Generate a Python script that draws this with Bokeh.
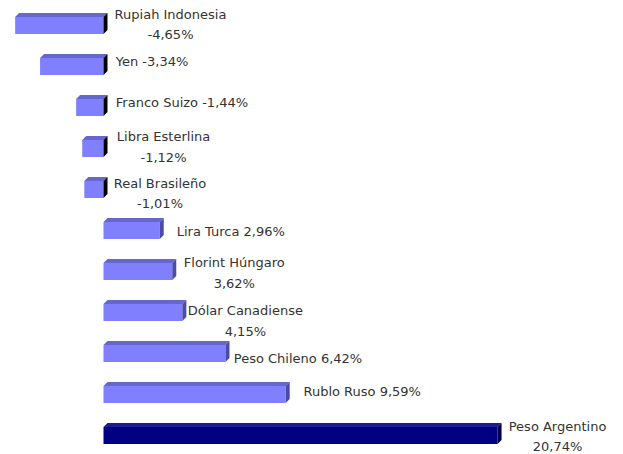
from bokeh.plotting import figure
from bokeh.models import Range1d, ColumnDataSource
from bokeh.core.properties import value
from bokeh.embed import file_html
from bokeh.resources import INLINE

# ---- data ----
monedas = ["Rupiah Indonesia", "Yen", "Franco Suizo", "Libra Esterlina",
           "Real Brasileño", "Lira Turca", "Florint Húngaro",
           "Dólar Canadiense", "Peso Chileno", "Rublo Ruso", "Peso Argentino"]
variacion = [-4.65, -3.34, -1.44, -1.12, -1.01, 2.96, 3.62, 4.15, 6.42, 9.59, 20.74]

# ---- layout (labels placed like the original) ----
dividir = [True, False, False, True, True, False, True, True, False, False, True]
label_dx = [67, 48.5, 78.5, 60, 56.5, 71, 62, 63, 72.5, 76.5, 60]      # px from bar end
label_dy1 = [-11, -5, -5, -12, -6, 1, -9, -2, 5, -3, -9]              # px, down positive
label_dy2 = [9, 0, 0, 9, 14, 0, 12, 19, 0, 0, 10.5]

W, H = 623, 454
XS, YS = 19.0, 41.0      # px per unit
X0, Y0 = 103, 25         # px position of zero / first bar

p = figure(width=W, height=H, output_backend="svg", toolbar_location=None,
           x_range=Range1d(-X0 / XS, (W - X0) / XS),
           y_range=Range1d((H - Y0) / YS, -Y0 / YS),
           min_border=0)
p.axis.visible = False
p.grid.visible = False
p.outline_line_color = None
p.background_fill_color = "white"
p.border_fill_color = "white"

h = 17 / YS / 2
dx = 4 / XS
dy = 4 / YS

n = len(variacion)
front = dict(left=[], right=[], top=[], bottom=[], color=[])
top_xs, top_ys, top_c = [], [], []
side_xs, side_ys, side_c = [], [], []
for i, v in enumerate(variacion):
    x0, x1 = min(0, v), max(0, v)
    yt, yb = i - h, i + h
    last = (i == n - 1)
    front["left"].append(x0)
    front["right"].append(x1)
    front["top"].append(yt)
    front["bottom"].append(yb)
    front["color"].append("#000080" if last else "#8080ff")
    top_xs.append([x0, x1, x1 + dx, x0 + dx])
    top_ys.append([yt, yt, yt - dy, yt - dy])
    top_c.append("#1c1c94" if last else "#6666cc")
    side_xs.append([x1, x1 + dx, x1 + dx, x1])
    side_ys.append([yt, yt - dy, yb - dy, yb])
    side_c.append("#00004a" if last else ("#000000" if v < 0 else "#4c4ca6"))

p.quad(left="left", right="right", top="top", bottom="bottom",
       fill_color="color", line_color=None, source=ColumnDataSource(front))
p.patches(top_xs, top_ys, fill_color=top_c, line_color=None)
p.patches(side_xs, side_ys, fill_color=side_c, line_color=None)

def fmt(v):
    return ("%.2f" % v).replace(".", ",") + "%"

tx, ty, tt = [], [], []
for i, (m, v) in enumerate(zip(monedas, variacion)):
    ax = max(0, v) + label_dx[i] / XS
    if dividir[i]:
        tx += [ax, ax]
        ty += [i + label_dy1[i] / YS, i + label_dy2[i] / YS]
        tt += [m, fmt(v)]
    else:
        tx.append(ax)
        ty.append(i + label_dy1[i] / YS)
        tt.append(m + " " + fmt(v))

p.text(x=tx, y=ty, text=tt, text_align="center", text_baseline="middle",
       text_font=value("DejaVu Sans"), text_font_size="13px", text_color="#333333")

open("out.html", "w").write(file_html(p, INLINE))
